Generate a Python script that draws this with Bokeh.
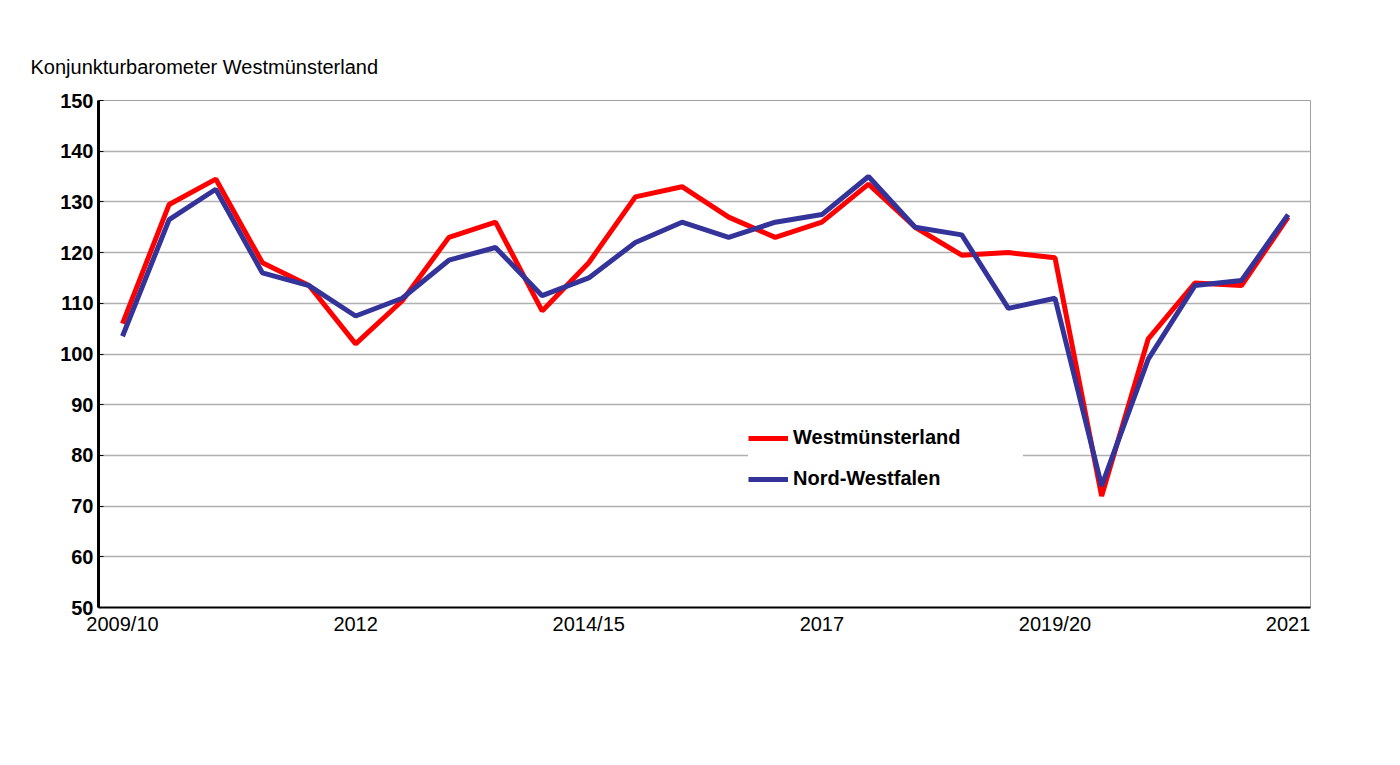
from bokeh.plotting import figure
from bokeh.models import Legend, LegendItem, FixedTicker, Range1d, Title
from bokeh.embed import file_html
from bokeh.resources import INLINE

idx = list(range(26))
west = [106, 129.5, 134.5, 118, 113.5, 102, 110.5, 123, 126, 108.5, 118, 131, 133, 127, 123, 126,
        133.5, 125, 119.5, 120, 119, 72, 103, 114, 113.5, 127]
nrw = [103.5, 126.5, 132.5, 116, 113.5, 107.5, 111, 118.5, 121, 111.5, 115, 122, 126, 123, 126, 127.5,
       135, 125, 123.5, 109, 111, 74, 99, 113.5, 114.5, 127.5]
tick_pos = [0, 5, 10, 15, 20, 25]
tick_labels = ["2009/10", "2012", "2014/15", "2017", "2019/20", "2021"]

p = figure(width=1390, height=750, output_backend="svg", toolbar_location=None,
           x_range=Range1d(-0.515, 25.48), y_range=Range1d(50, 150),
           min_border_left=98, min_border_right=80, min_border_top=100, min_border_bottom=143)
p.outline_line_color = "#a0a0a0"
p.xgrid.grid_line_color = None
p.ygrid.grid_line_color = "#b0b0b0"
p.ygrid.grid_line_width = 1.5
p.yaxis.ticker = FixedTicker(ticks=list(range(50, 151, 10)))
p.xaxis.ticker = FixedTicker(ticks=tick_pos)
p.xaxis.major_label_overrides = {t: l for t, l in zip(tick_pos, tick_labels)}
p.yaxis.axis_line_width = 3
p.xaxis.axis_line_width = 2
p.yaxis.major_tick_in = 5; p.yaxis.major_tick_out = 0
p.xaxis.major_tick_in = 0; p.xaxis.major_tick_out = 0
p.yaxis.minor_tick_line_color = None; p.xaxis.minor_tick_line_color = None
p.yaxis.major_label_text_font_style = "bold"
p.yaxis.major_label_text_font_size = "15pt"
p.xaxis.major_label_text_font_size = "15pt"
for ax in (p.xaxis, p.yaxis):
    ax.major_label_text_font = "Liberation Sans"
    ax.major_label_text_color = "black"

r1 = p.line(idx, west, line_color="#ff0000", line_width=5)
r2 = p.line(idx, nrw, line_color="#333399", line_width=5)

leg = Legend(items=[LegendItem(label="Westmünsterland", renderers=[r1]),
                    LegendItem(label="Nord-Westfalen", renderers=[r2])],
             location=(650, 117), background_fill_color="white", background_fill_alpha=1,
             border_line_color=None, label_text_font="Liberation Sans",
             label_text_font_style="bold", label_text_font_size="15pt",
             label_text_color="black", label_width=230,
             glyph_width=40, spacing=18, padding=12, margin=0)
p.add_layout(leg, "center")

t = Title(text="Konjunkturbarometer Westmünsterland", text_font="Liberation Sans",
          text_font_size="15pt", text_font_style="normal", text_color="black",
          offset=-68, standoff=45)
p.add_layout(t, "above")

open("out.html", "w").write(file_html(p, INLINE))
